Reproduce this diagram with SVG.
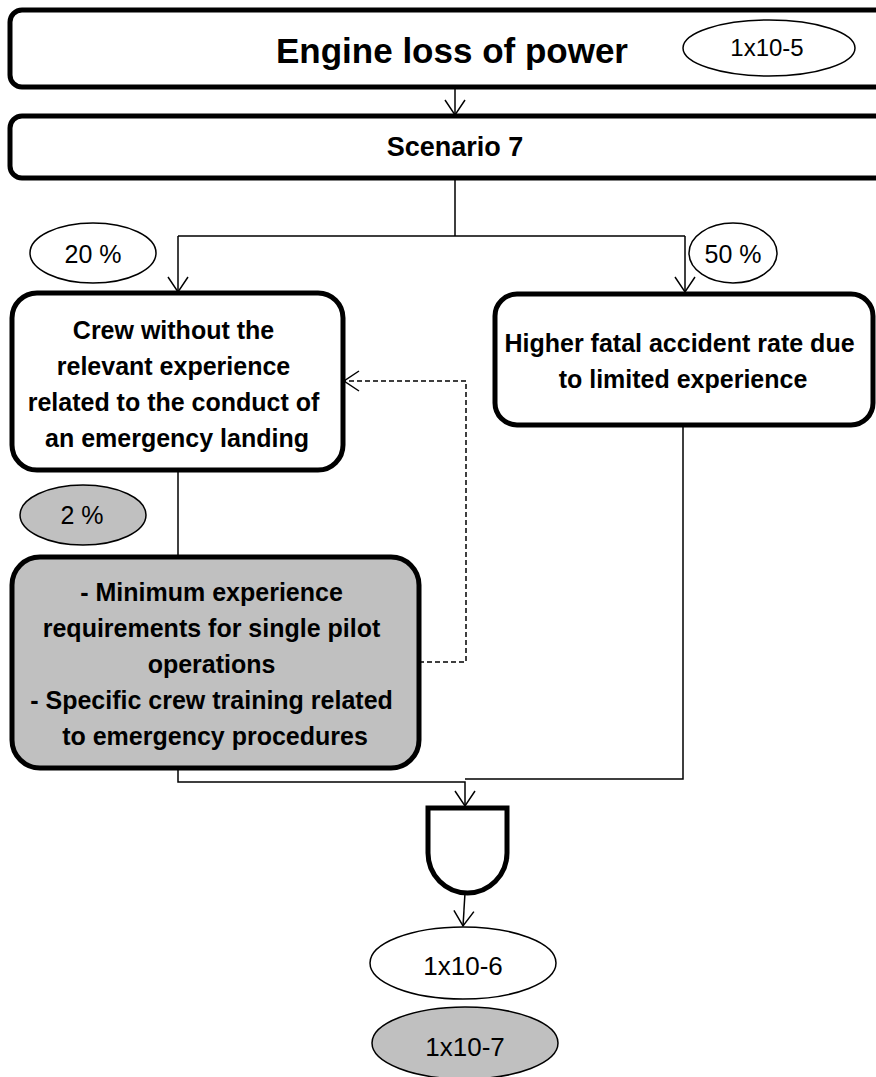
<svg xmlns="http://www.w3.org/2000/svg" width="876" height="1077" viewBox="0 0 876 1077">
  <style>
    .box { fill: #ffffff; stroke: #000000; stroke-width: 5; }
    .grey { fill: #c0c0c0; }
    .oval { fill: #ffffff; stroke: #000000; stroke-width: 1.5; }
    .oval.grey { fill: #c0c0c0; }
    .link { fill: none; stroke: #000000; stroke-width: 1.5; }
    .dash { stroke-dasharray: 5 3; }
    .lbl { font-family: "Liberation Sans", Arial, sans-serif; font-weight: bold; fill: #000000; text-anchor: middle; }
    .num { font-family: "Liberation Sans", Arial, sans-serif; fill: #000000; text-anchor: middle; }
  </style>
  <defs>
    <marker id="open" markerUnits="userSpaceOnUse" markerWidth="26" markerHeight="26" refX="16" refY="11" orient="auto">
      <path d="M1,1 L16,11 L1,21" fill="none" stroke="#000000" stroke-width="1.5"/>
    </marker>
  </defs>

  <!-- connectors -->
  <g id="connectors">
    <path class="link" d="M455,88 L455,115" marker-end="url(#open)"/>
    <path class="link" d="M455,178 L455,236 M178,236 L685,236"/>
    <path class="link" d="M178,236 L178,292" marker-end="url(#open)"/>
    <path class="link" d="M685,236 L685,292" marker-end="url(#open)"/>
    <path class="link" d="M178,470 L178,557"/>
    <path class="link" d="M178,768 L178,782 L465,782 L465,806" marker-end="url(#open)"/>
    <path class="link" d="M683,425 L683,779 L465,779"/>
    <path class="link" d="M465,893 L463,926" marker-end="url(#open)"/>
    <path class="link dash" d="M419,662 L466,662 L466,381 L344,381" marker-end="url(#open)"/>
  </g>

  <!-- top event -->
  <g id="engine-loss">
    <rect class="box" x="10" y="10" width="885" height="77" rx="12"/>
    <text class="lbl" x="452" y="63" font-size="35">Engine loss of power</text>
  </g>
  <g id="p-top">
    <ellipse class="oval" cx="769" cy="48" rx="86" ry="28"/>
    <text class="num" x="767" y="56" font-size="24">1x10-5</text>
  </g>

  <g id="scenario">
    <rect class="box" x="10" y="116" width="885" height="62" rx="12"/>
    <text class="lbl" x="455" y="156" font-size="27">Scenario 7</text>
  </g>

  <!-- left branch -->
  <g id="p-crew">
    <ellipse class="oval" cx="93" cy="253" rx="63" ry="30"/>
    <text class="num" x="93" y="263" font-size="25">20 %</text>
  </g>
  <g id="crew">
    <rect class="box" x="12" y="293" width="331" height="177" rx="25"/>
    <text class="lbl" font-size="25">
      <tspan x="177" y="339">Crew without the</tspan>
      <tspan x="177" y="375">relevant experience</tspan>
      <tspan x="177" y="411">related to the conduct of</tspan>
      <tspan x="177" y="447">an emergency landing</tspan>
    </text>
  </g>
  <g id="p-barrier">
    <ellipse class="oval grey" cx="83" cy="515" rx="63" ry="30"/>
    <text class="num" x="82" y="524" font-size="25">2 %</text>
  </g>
  <g id="barrier">
    <rect class="box grey" x="12" y="557" width="407" height="211" rx="28"/>
    <text class="lbl" font-size="25">
      <tspan x="215" y="601">- Minimum experience</tspan>
      <tspan x="215" y="637">requirements for single pilot</tspan>
      <tspan x="215" y="673">operations</tspan>
      <tspan x="215" y="709">- Specific crew training related</tspan>
      <tspan x="215" y="745">to emergency procedures</tspan>
    </text>
  </g>

  <!-- right branch -->
  <g id="p-rate">
    <ellipse class="oval" cx="733" cy="253" rx="44" ry="30"/>
    <text class="num" x="733" y="263" font-size="25">50 %</text>
  </g>
  <g id="rate">
    <rect class="box" x="495" y="294" width="378" height="131" rx="22"/>
    <text class="lbl" font-size="25">
      <tspan x="683" y="352">Higher fatal accident rate due</tspan>
      <tspan x="683" y="388">to limited experience</tspan>
    </text>
  </g>

  <!-- AND gate -->
  <g id="and-gate">
    <path class="box" d="M428,808 L507,808 L507,853 A39.5,40 0 0 1 428,853 Z"/>
  </g>

  <!-- results -->
  <g id="p-result">
    <ellipse class="oval" cx="463" cy="963" rx="93" ry="36"/>
    <text class="num" x="463" y="975" font-size="26">1x10-6</text>
  </g>
  <g id="p-result-mitigated">
    <ellipse class="oval grey" cx="465" cy="1043" rx="93" ry="36"/>
    <text class="num" x="465" y="1056" font-size="26">1x10-7</text>
  </g>
</svg>
